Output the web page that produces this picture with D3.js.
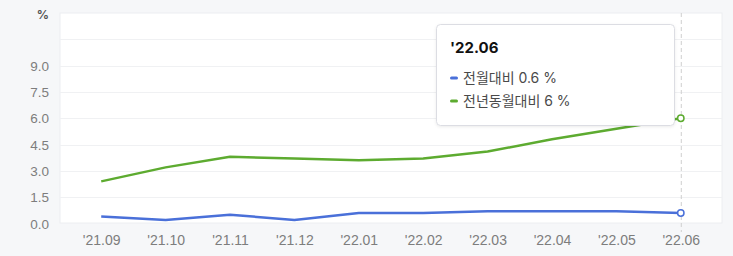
<!DOCTYPE html>
<html><head><meta charset="utf-8">
<script src="https://cdn.jsdelivr.net/npm/d3@7"></script>
<style>
html,body{margin:0;padding:0;background:#f6f7f9;}
svg{display:block;font-family:Inter,"Noto Sans CJK KR",sans-serif;}
</style></head>
<body><svg id="c" width="733" height="256"></svg>
<script>
const categories = ["'21.09","'21.10","'21.11","'21.12","'22.01","'22.02","'22.03","'22.04","'22.05","'22.06"];
const seriesNames = ["전월대비","전년동월대비"];
const momValues = [0.4,0.2,0.5,0.2,0.6,0.6,0.7,0.7,0.7,0.6];
const yoyValues = [2.4,3.2,3.8,3.7,3.6,3.7,4.1,4.8,5.4,6.0];
const yTicks = [0,1.5,3,4.5,6,7.5,9,10.5,12];
const yTickLabels = ["0.0","1.5","3.0","4.5","6.0","7.5","9.0","",""];
const unitLabel = "%";
const tooltipTitle = "'22.06";
const tooltipTexts = ["전월대비 0.6 %","전년동월대비 6 %"];
const colors = ["#4a70d9","#5dab30"];

const svg = d3.select("#c");
const L=60, R=722, T=13, B=223.5;
const x = d3.scalePoint().domain(categories).range([L,R]).padding(0.64);
const y = d3.scaleLinear().domain([0,12]).range([B,T]);

svg.append("rect").attr("x",L).attr("y",T).attr("width",R-L).attr("height",223-T)
  .attr("fill","#fff").attr("stroke","#eceef1").attr("stroke-width",1);

// gridlines
svg.append("g").selectAll("line").data(yTicks.slice(1,-1)).join("line")
  .attr("x1",L).attr("x2",R).attr("y1",d=>Math.round(y(d))+0.5).attr("y2",d=>Math.round(y(d))+0.5)
  .attr("stroke","#f0f1f3");

// y axis
const yAxis = d3.axisLeft(y).tickValues(yTicks.slice(0,-1)).tickSize(0).tickPadding(0)
  .tickFormat((d,i)=>yTickLabels[i]);
const gy = svg.append("g").attr("transform",`translate(49,0)`).call(yAxis);
gy.select(".domain").remove();
gy.selectAll("text").attr("fill","#7d7d7d").attr("font-size",13.5).attr("dy","0.35em");
svg.append("text").attr("x",49).attr("y",y(12)+6).attr("text-anchor","end")
  .attr("font-size",12).attr("font-weight",700).attr("fill","#555").text(unitLabel);

// x axis
const xAxis = d3.axisBottom(x).tickSize(0).tickPadding(0);
const gx = svg.append("g").attr("transform",`translate(0,235)`).call(xAxis);
gx.select(".domain").remove();
gx.selectAll("text").attr("fill","#7d7d7d").attr("font-size",14).attr("dy","0.71em");

// hover line
const hx = x(categories[categories.length-1]);
svg.append("line").attr("x1",hx+0.5).attr("x2",hx+0.5).attr("y1",T).attr("y2",232)
  .attr("stroke","#cfcfcf").attr("stroke-dasharray","4,3");

const line = d3.line().x((d,i)=>x(categories[i])).y(d=>y(d));
[momValues,yoyValues].forEach((vals,k)=>{
  svg.append("path").datum(vals).attr("d",line).attr("fill","none")
    .attr("stroke",colors[k]).attr("stroke-width",2.5).attr("stroke-linejoin","round");
  const last = vals.length-1;
  svg.append("circle").attr("cx",x(categories[last])).attr("cy",y(vals[last])).attr("r",3.2)
    .attr("fill","#fff").attr("stroke",colors[k]).attr("stroke-width",1.5);
});

// tooltip
const tg = svg.append("g");
const defs = svg.append("defs");
const f = defs.append("filter").attr("id","sh").attr("x","-10%").attr("y","-10%").attr("width","120%").attr("height","130%");
f.append("feDropShadow").attr("dx",0).attr("dy",1).attr("stdDeviation",1.5).attr("flood-color","#000").attr("flood-opacity",0.08);
tg.append("rect").attr("x",436.5).attr("y",24.5).attr("width",238).attr("height",101).attr("rx",4)
  .attr("fill","#fff").attr("stroke","#dcdde3").attr("filter","url(#sh)");
tg.append("text").attr("x",450).attr("y",53).attr("font-size",15).attr("font-weight",700)
  .attr("fill","#111").text(tooltipTitle);
tooltipTexts.forEach((t,i)=>{
  const yy = 78 + i*23;
  tg.append("rect").attr("x",450).attr("y",yy-1.5).attr("width",8).attr("height",3).attr("rx",1.5).attr("fill",colors[i]);
  tg.append("text").attr("x",463).attr("y",yy+5).attr("font-size",14).attr("fill","#4a4a4a").text(t);
});
</script></body></html>
